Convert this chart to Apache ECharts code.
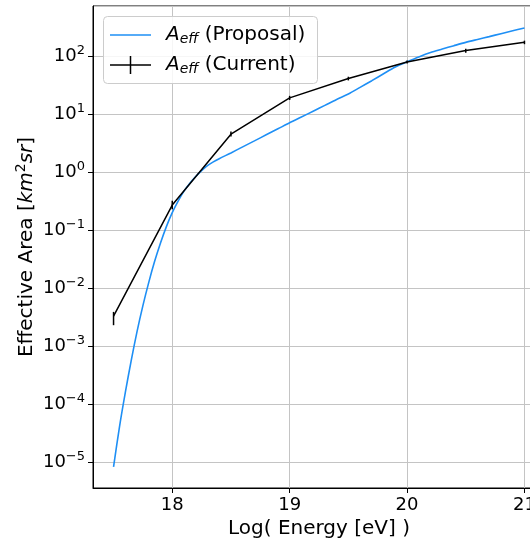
<!DOCTYPE html>
<html>
<head>
<meta charset="utf-8">
<script src="https://cdn.jsdelivr.net/npm/echarts@6/dist/echarts.min.js"></script>
<style>
  html, body { margin: 0; padding: 0; background: #fff; }
  #chart { width: 530px; height: 541px; }
</style>
</head>
<body>
<div id="chart"></div>
<script>
// datos
const energyProposal = [17.5, 17.55, 17.6, 17.65, 17.7, 17.75, 17.8, 17.85, 17.9, 17.95,
  18.0, 18.05, 18.1, 18.15, 18.2, 18.25, 18.3, 18.35, 18.4, 18.5, 18.6, 18.7, 18.8, 18.9,
  19.0, 19.1, 19.2, 19.3, 19.4, 19.5, 19.6, 19.7, 19.8, 19.9, 20.0, 20.1, 20.2, 20.3,
  20.4, 20.5, 20.6, 20.7, 20.8, 20.9, 21.0];
const aeffProposal = [8.3e-6, 4.0e-5, 1.58e-4, 5.6e-4, 1.78e-3, 5.0e-3, 1.26e-2, 2.9e-2, 6.0e-2, 0.115,
  0.20, 0.316, 0.47, 0.645, 0.84, 1.06, 1.29, 1.5, 1.7, 2.14, 2.72, 3.45, 4.39, 5.57,
  7.08, 8.9, 11.2, 14.1, 17.8, 22.1, 28.8, 37.6, 49.5, 64.6, 79.4, 96.6, 115, 132,
  151, 172, 193, 216, 243, 272, 305];

const energyCurrent = [17.5, 18, 18.5, 19, 19.5, 20, 20.5, 21];
const aeffCurrent = [3.3e-3, 0.27, 4.5, 19, 41, 79, 124, 172];
const errLow = [2.3e-3, 0.23, 4.1, 17.5, 38, 74, 114, 160];
const errHigh = [3.9e-3, 0.32, 5.0, 20.6, 44, 84, 134, 184];

const xTicks = [18, 19, 20, 21];

const FONT = 'DejaVu Sans';

var chart = echarts.init(document.getElementById('chart'));

function logLabel(v) {
    const e = Math.round(Math.log10(v));
    const s = String(e).replace('-', '\u2212');
    return '{b|10}{e|' + s + '}';
}

const legendRich = {
    i: { fontFamily: FONT, fontSize: 20, fontStyle: 'italic', color: '#000' },
    s: { fontFamily: FONT, fontSize: 14, fontStyle: 'italic', color: '#000', padding: [9, 0, 0, 0] }
};

var option = {
    animation: false,
    backgroundColor: '#fff',
    grid: {
        left: 93,
        top: 6,
        width: 452,
        height: 482,
        outerBoundsMode: 'none',
        containLabel: false,
        show: true,
        borderColor: '#000',
        borderWidth: 1,
        backgroundColor: 'transparent'
    },
    graphic: [
        {
            type: 'rect',
            left: 103,
            top: 16,
            z: 3,
            shape: { width: 214, height: 67, r: 4 },
            style: { fill: 'rgba(255,255,255,0.85)', stroke: '#cccccc', lineWidth: 1 }
        }
    ],
    legend: [
        {
            data: ['Proposal'],
            left: 110,
            top: 25,
            padding: 0,
            selectedMode: false,
            icon: 'path://M0,0h41v1.5h-41z',
            itemWidth: 41,
            itemHeight: 1.5,
            formatter: '{i|A}{s|eff} (Proposal)',
            textStyle: { fontFamily: FONT, fontSize: 20, color: '#000', padding: [0, 0, 0, 10], rich: legendRich }
        },
        {
            data: ['Current'],
            left: 110,
            top: 55,
            padding: 0,
            selectedMode: false,
            icon: 'path://M0,8.25h41v1.5h-41z M19.75,0h1.5v18h-1.5z',
            itemWidth: 41,
            itemHeight: 18,
            formatter: '{i|A}{s|eff} (Current)',
            textStyle: { fontFamily: FONT, fontSize: 20, color: '#000', padding: [0, 0, 0, 10], rich: legendRich }
        }
    ],
    xAxis: {
        type: 'value',
        min: 17.325,
        max: 21.175,
        name: 'Log( Energy [eV] )',
        nameLocation: 'middle',
        nameGap: 22,
        nameTextStyle: { fontFamily: FONT, fontSize: 20, color: '#000' },
        axisLine: { lineStyle: { color: '#000', width: 1 } },
        axisTick: { show: true, inside: false, length: 5, lineStyle: { color: '#000' }, customValues: xTicks },
        axisLabel: { fontFamily: FONT, fontSize: 18, color: '#000', margin: 8, customValues: xTicks },
        splitLine: { show: true, lineStyle: { color: '#c4c4c4', width: 1 } }
    },
    yAxis: {
        type: 'log',
        logBase: 10,
        min: 3.6e-6,
        max: 728,
        name: '{n|Effective Area [}{m|km}{p|2}{m|sr}{n|]}',
        nameLocation: 'middle',
        nameGap: 54,
        nameMoveOverlap: false,
        nameTextStyle: {
            fontFamily: FONT, fontSize: 20, color: '#000',
            rich: {
                n: { fontFamily: FONT, fontSize: 20, color: '#000' },
                m: { fontFamily: FONT, fontSize: 20, color: '#000', fontStyle: 'italic' },
                p: { fontFamily: FONT, fontSize: 14, color: '#000', padding: [0, 0, 11, 0] }
            }
        },
        axisLine: { show: true, lineStyle: { color: '#000', width: 1 } },
        axisTick: { show: true, inside: false, length: 5, lineStyle: { color: '#000' } },
        axisLabel: {
            margin: 8,
            showMinLabel: false,
            showMaxLabel: false,
            formatter: logLabel,
            rich: {
                b: { fontFamily: FONT, fontSize: 18, color: '#000' },
                e: { fontFamily: FONT, fontSize: 13, color: '#000', padding: [0, 0, 11, 0] }
            }
        },
        splitLine: { show: true, lineStyle: { color: '#c4c4c4', width: 1 } }
    },
    series: [
        {
            name: 'Proposal',
            type: 'line',
            data: energyProposal.map((e, i) => [e, aeffProposal[i]]),
            symbol: 'none',
            smooth: 0.3,
            color: '#1e8ff5',
            lineStyle: { color: '#1e8ff5', width: 1.6 },
            z: 3
        },
        {
            name: 'Current',
            type: 'line',
            data: energyCurrent.map((e, i) => [e, aeffCurrent[i]]),
            symbol: 'none',
            color: '#000',
            lineStyle: { color: '#000', width: 1.5 },
            z: 4
        },
        {
            type: 'custom',
            data: energyCurrent.map((e, i) => [e, errLow[i], errHigh[i]]),
            encode: { x: 0, y: [1, 2] },
            z: 4,
            renderItem: function (params, api) {
                const p1 = api.coord([api.value(0), api.value(1)]);
                const p2 = api.coord([api.value(0), api.value(2)]);
                return {
                    type: 'line',
                    shape: { x1: p1[0], y1: p1[1], x2: p2[0], y2: p2[1] },
                    style: { stroke: '#000', lineWidth: 1.5 }
                };
            }
        }
    ]
};

chart.setOption(option);
window.addEventListener('resize', chart.resize);
</script>
</body>
</html>
